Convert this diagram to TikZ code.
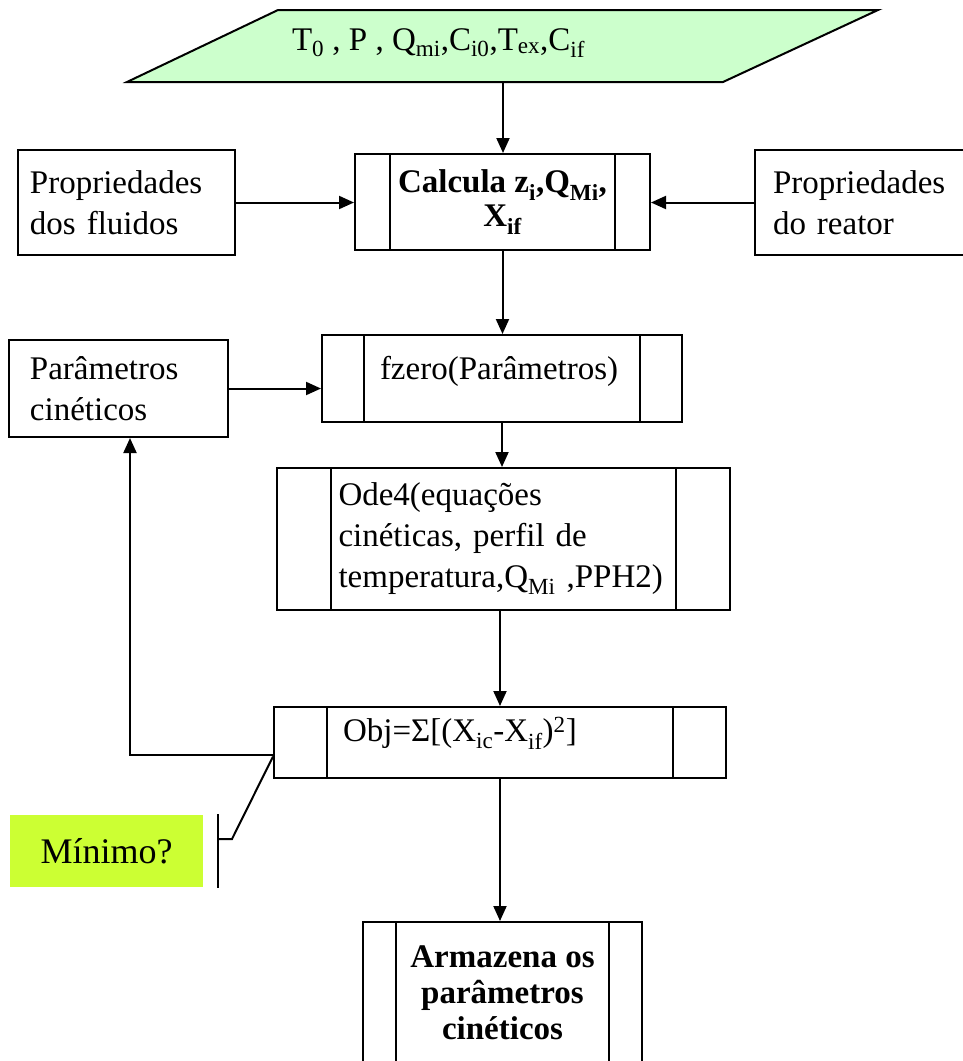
\documentclass[tikz,border=0pt]{standalone}
\usepackage{fontspec}
\setmainfont{Liberation Serif}
\usetikzlibrary{arrows.meta, positioning, calc}
\definecolor{InputGreen}{RGB}{204, 255, 204}
\definecolor{NoteLime}{RGB}{204, 255, 51}

% inner bars of a predefined process box
\newcommand{\sidebars}[2]{%
  \draw ($(#1.north west)+(#2,0)$) -- ($(#1.south west)+(#2,0)$);
  \draw ($(#1.north east)+(-#2,0)$) -- ($(#1.south east)+(-#2,0)$);}

\begin{document}
\begin{tikzpicture}[
    x=1pt, y=-1pt,
    line width=2pt,
    font=\fontsize{33}{41}\selectfont,
    databox/.style={draw, rectangle, inner sep=0pt, align=left},
    process/.style={draw, rectangle, inner sep=0pt, align=left},
    boldproc/.style={draw, rectangle, inner sep=0pt, align=center, font=\fontsize{33}{34}\selectfont\bfseries},
    note/.style={rectangle, fill=NoteLime, inner sep=0pt, font=\fontsize{36}{40}\selectfont},
    arrow/.style={-{Triangle[length=15pt, width=13pt]}}
]
\useasboundingbox (0,0) rectangle (962,1061);

% Input data
\filldraw[fill=InputGreen] (127,82) -- (278,10) -- (878,10) -- (723,82) -- cycle;
\node[anchor=west, inner sep=0pt] (inp) at (291,43)
    {T\textsubscript{0} , P , Q\textsubscript{mi},C\textsubscript{i0},T\textsubscript{ex},C\textsubscript{if}};
\coordinate (inpbot) at (503,82);

% Main chain
\node[boldproc, minimum width=295, minimum height=96] (calc) at (502.5,202)
    {Calcula z\textsubscript{i},Q\textsubscript{Mi},\\X\textsubscript{if}};
\node[process, minimum width=360, minimum height=87, text width=244, text depth=21pt] (fz) at (502,378.5)
    {fzero(Parâmetros)};
\node[process, minimum width=453, minimum height=142, text width=330] (ode) at (503.5,539)
    {Ode4(equações\\cinéticas, perfil de\\temperatura,Q\textsubscript{Mi} ,PPH2)};
\node[process, minimum width=452, minimum height=71, text width=314, text depth=26pt] (obj) at (500,742.5)
    {Obj=Σ[(X\textsubscript{ic}-X\textsubscript{if})\textsuperscript{2}]};
\node[boldproc, minimum width=279, minimum height=142, font=\fontsize{33}{36}\selectfont\bfseries] (arm) at (502.5,993)
    {Armazena os\\parâmetros\\cinéticos};

\sidebars{calc}{36}
\sidebars{fz}{43}
\sidebars{ode}{55}
\sidebars{obj}{54}
\sidebars{arm}{34}

% Side inputs
\node[databox, minimum width=217, minimum height=105, text width=193] (fluid) at (126.5,202.5)
    {Propriedades\\dos fluidos};
\node[databox, minimum width=215, minimum height=105, text width=179] (reat) at (862.5,202.5)
    {Propriedades\\do reator};
\node[databox, minimum width=219, minimum height=97, text width=177] (par) at (118.5,388.5)
    {Parâmetros\\cinéticos};

% Note
\node[note, minimum width=193, minimum height=72] (min) at (106.5,851) {Mínimo?};
\coordinate (callk) at (232,839);
\coordinate (callbar) at (218,839);

% Arrows
\draw[arrow] (inpbot) -- (inpbot |- calc.north);
\draw[arrow] (fluid.east) -- (fluid.east -| calc.west);
\draw[arrow] (reat.west) -- (reat.west -| calc.east);
\draw[arrow] (calc.south) -- (calc.south |- fz.north);
\draw[arrow] (par.east) -- (par.east -| fz.west);
\draw[arrow] (fz.south) -- (fz.south |- ode.north);
\draw[arrow] (obj.north |- ode.south) -- (obj.north);
\draw[arrow] (obj.south) -- (obj.south |- arm.north);
\draw[arrow] ([yshift=-12.5pt]obj.west) -| ([xshift=11.5pt]par.south);

% Callout
\draw ([yshift=-14pt]obj.west) -- (callk) -- (callbar);
\draw (callbar |- min.north) -- (callbar |- min.south);

\end{tikzpicture}
\end{document}
